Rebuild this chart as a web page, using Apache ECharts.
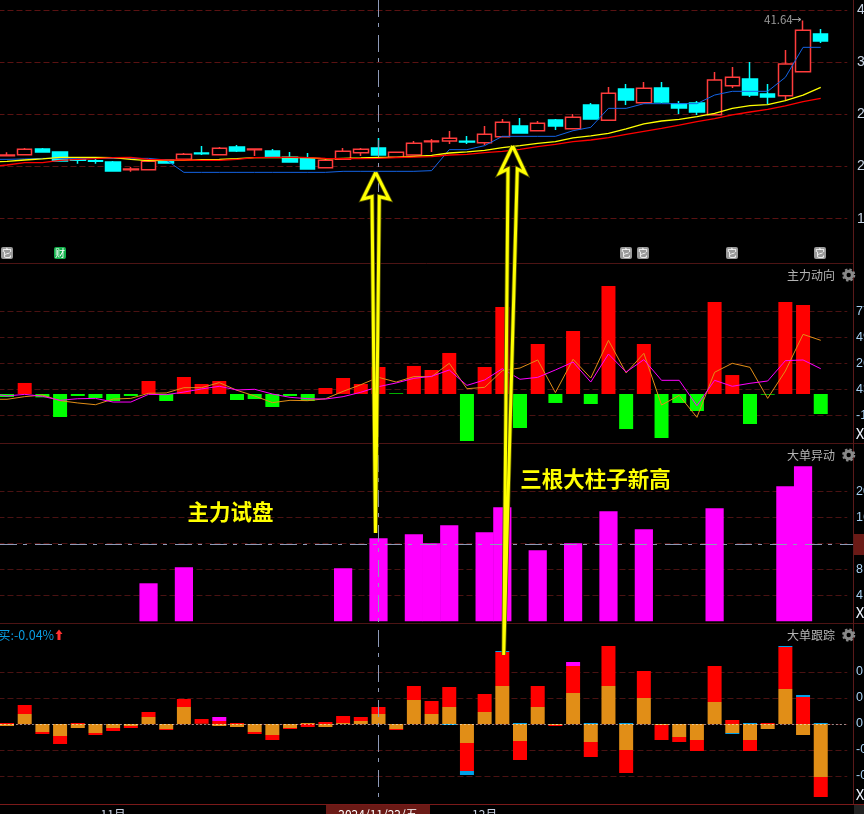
<!DOCTYPE html>
<html><head><meta charset="utf-8">
<style>html,body{margin:0;padding:0;background:#000;overflow:hidden}#c{width:864px;height:814px}</style>
<script src="https://cdn.jsdelivr.net/npm/echarts@6/dist/echarts.min.js"></script>
</head><body><div id="c"></div>
<script>
// ---- data ----
const dates=['2024/10/23','2024/10/24','2024/10/25','2024/10/28','2024/10/29','2024/10/30','2024/10/31','2024/11/01','2024/11/04','2024/11/05','2024/11/06','2024/11/07','2024/11/08','2024/11/11','2024/11/12','2024/11/13','2024/11/14','2024/11/15','2024/11/18','2024/11/19','2024/11/20','2024/11/21','2024/11/22','2024/11/25','2024/11/26','2024/11/27','2024/11/28','2024/11/29','2024/12/02','2024/12/03','2024/12/04','2024/12/05','2024/12/06','2024/12/09','2024/12/10','2024/12/11','2024/12/12','2024/12/13','2024/12/16','2024/12/17','2024/12/18','2024/12/19','2024/12/20','2024/12/23','2024/12/24','2024/12/25','2024/12/26','2024/12/27',''];
const monthLabels={'2024/11/01':'11月','2024/12/02':'12月'};
const openP=[23.47,23.61,24.37,23.97,22.94,22.80,22.62,21.59,21.59,22.89,22.98,23.83,23.61,24.64,24.28,24.10,23.25,23.07,21.86,22.98,23.88,24.50,23.25,23.56,25.35,25.44,25.40,25.22,26.03,27.46,26.83,28.27,27.10,30.28,28.22,32.43,30.59,32.56,30.41,30.55,28.98,32.88,33.77,31.76,31.53,34.76,39.82];
const closeP=[23.56,24.32,23.97,22.76,22.85,22.71,21.41,21.68,22.71,22.49,23.65,23.74,24.46,24.10,24.37,23.25,22.62,21.68,22.85,24.06,24.32,23.56,23.92,25.13,25.44,25.80,25.31,26.34,27.95,26.52,27.82,27.46,28.62,28.40,31.85,30.95,32.52,30.68,29.88,29.34,33.64,34.00,31.62,31.36,35.79,40.31,38.88];
const lowP=[23.47,23.61,23.97,22.76,22.40,22.40,21.41,21.32,21.59,22.40,22.98,23.56,23.61,23.97,23.43,23.25,22.62,21.68,21.86,22.98,23.43,23.56,23.25,23.56,23.97,25.04,25.04,24.91,26.03,26.52,26.83,26.92,27.10,28.40,28.22,30.28,30.59,30.55,29.07,28.94,28.98,32.56,31.36,30.41,30.95,34.76,38.61];
const highP=[23.92,24.50,24.50,23.97,23.07,23.07,22.76,21.95,22.98,23.03,23.83,24.77,24.64,24.91,24.37,24.37,23.97,23.83,23.11,24.50,24.50,25.85,23.92,25.44,25.71,26.79,26.12,27.46,28.40,28.53,28.13,28.40,29.07,30.55,32.70,33.10,33.37,33.37,30.82,30.82,34.71,35.39,36.06,33.10,37.67,41.64,40.49];
const maYellow=[22.60,22.71,22.89,23.03,23.25,23.25,23.25,23.20,22.98,22.80,22.85,22.85,22.94,22.98,23.07,23.20,23.20,23.25,23.20,23.03,23.11,23.16,23.25,23.25,23.38,23.52,23.83,23.97,24.19,24.55,24.82,25.13,25.35,25.85,26.12,26.47,27.06,27.73,28.13,28.35,28.71,29.16,29.83,30.19,30.33,30.86,31.62,32.65];
const maRed=[22.00,22.22,22.53,22.53,22.85,22.98,23.07,23.20,23.25,22.98,22.89,22.89,22.85,22.85,22.98,23.20,23.25,23.25,23.20,23.11,23.07,23.07,23.11,23.20,23.29,23.34,23.56,23.65,23.88,24.06,24.32,24.68,25.00,25.35,25.58,25.89,26.34,26.74,27.15,27.59,28.04,28.44,28.94,29.34,29.70,30.15,30.73,31.18];
const maBlue=[22.98,22.98,23.03,23.11,23.11,23.11,23.11,23.11,23.11,23.11,22.89,21.23,21.23,21.23,21.23,21.23,21.23,21.23,21.23,21.23,21.37,21.37,21.37,21.37,21.37,21.46,24.28,24.28,24.82,26.07,26.07,26.07,26.07,26.83,27.28,29.83,29.83,30.46,30.46,30.46,30.46,31.62,32.12,32.12,32.12,34.00,38.03,38.03];
const flowUp=[null,9.6,null,null,null,null,null,null,11.3,null,14.8,8.7,11.3,null,null,null,null,null,5.2,13.9,8.7,23.5,null,24.4,20.9,35.7,null,23.5,75.7,null,43.5,null,54.8,null,94.0,null,43.5,null,null,null,80.0,16.5,null,null,80.0,77.4,null];
const flowDown=[-2.6,null,-2.9,-20.0,-1.7,-3.5,-6.1,-1.7,null,-6.1,null,null,null,-5.2,-4.4,-11.3,-1.7,-6.1,null,null,null,null,0.6,null,null,null,-40.9,null,null,-29.6,null,-7.8,null,-8.7,null,-30.5,null,-38.3,-7.8,-14.8,null,null,-26.1,-0.6,null,null,-17.4];
const flowMagenta=[0.6,-1.7,-0.3,-2.0,-5.5,-4.1,-3.8,-7.0,-7.0,-0.3,-0.6,1.7,4.4,6.7,3.5,4.1,0,-2.9,-4.1,-4.4,-2.3,1.5,6.4,9.6,13.6,15.4,20.9,7.5,12.2,22.0,12.8,14.5,20.9,27.8,10.4,34.8,19.1,29.9,11.9,11.9,-10.2,11.9,6.7,9.3,11.3,29.0,29.6,22.0];
const flowOrange=[-4.6,-4.6,-2.3,-0.9,-5.8,-7.8,-9.3,-4.4,-3.8,0.6,0.9,5.5,5.5,9.9,3.2,-1.7,-7.5,-5.5,-5.8,-4.1,2.3,8.1,14.5,10.4,15.1,15.1,26.7,4.6,5.8,20.3,22.6,29.6,1.2,30.2,13.9,46.7,18.3,35.4,-9.6,-1.2,-20.3,18.9,26.7,23.2,-3.8,20.0,51.9,46.7];
const bigOrder=[null,null,null,null,null,null,null,null,5.85,null,8.31,null,null,null,null,null,null,null,null,8.15,null,12.77,null,13.38,12.0,14.77,null,13.69,17.54,null,10.92,null,12.0,null,16.92,null,14.15,null,null,null,17.38,null,null,null,20.77,23.85,null];
const trackOrange=[-0.03,0.15,-0.12,-0.18,-0.06,-0.135,-0.06,-0.03,0.105,-0.075,0.255,0.005,-0.03,-0.045,-0.12,-0.165,-0.06,0.015,-0.045,0.015,0.045,0.15,-0.075,0.36,0.15,0.255,-0.285,0.18,0.57,-0.255,0.255,-0.015,0.465,-0.27,0.57,-0.39,0.39,-0.015,-0.195,-0.24,0.33,-0.135,-0.24,-0.075,0.525,-0.165,-0.795];
const trackRed=[0.015,0.135,-0.03,-0.12,0.015,-0.03,-0.045,-0.03,0.075,-0.015,0.12,0.07,0.045,0.015,-0.03,-0.075,-0.015,-0.045,0.03,0.105,0.06,0.105,-0.015,0.21,0.195,0.30,-0.42,0.27,0.51,-0.285,0.315,-0.015,0.405,-0.225,0.60,-0.345,0.405,-0.225,-0.075,-0.165,0.54,0.06,-0.165,0.015,0.63,0.405,-0.30];
const trackMagenta=[0,0,0,0,0,0,0,0,0,0,0,0,0.06,0,0,0,0,0,0,0,0,0,0,0,0,0,0,0,0,0,0,0,0.06,0,0,0,0,0,0,0,0,0,0,0,0,0,0];
const trackBlue=[0,0,0,0,0,0,0,0,0,0,0,0,0,0,0,0,0,0,0,0,0,0,0,0,0,-0.015,-0.06,0,0.015,0.015,0,0,0,0.015,0,0.015,0,0,0,0,0,-0.015,0.015,0,0.015,0.03,0.015];
const priceTicks=[43,36,29,22,15], priceLabels=['43.00','36.00','29.00','22.00','15.00'];
const flowTicks=[71.9,49.3,26.7,4.06,-18.6], flowLabels=['77.0','49.0','26.0','43.0','-18'];
const bigTicks=[20,16,12,8,4], bigLabels=['20.0','16.0','','8.00','4.00'];
const trackTicks=[0.78,0.39,0,-0.39,-0.78], trackLabels=['0.78','0.39','0.00','-0.39','-0.78'];

// ---- layout ----
const BAND=17.69, GL=-19.53, GW=BAND*dates.length;
const panels=[{top:0,h:263,min:9.05,max:44.39,t:priceTicks,l:priceLabels,c:'#c8d4e4',fs:14,m:4},
 {top:264,h:179,min:-42.63,max:113.1,t:flowTicks,l:flowLabels,c:'#a8cff0',fs:12.5,m:3},
 {top:444,h:179,min:-0.26,max:27.28,t:bigTicks,l:bigLabels,c:'#a8cff0',fs:12.5,m:3},
 {top:624,h:180,min:-1.2,max:1.5,t:trackTicks,l:trackLabels,c:'#a8cff0',fs:12.5,m:3}];
const lead=a=>[null].concat(a);
const RED='#ff0000',GREEN='#00ff00',MAG='#ff00ff',ORG='#e18e17',BLU='#00a0e8';
const candle=[['-','-','-','-']].concat(openP.map((o,i)=>[o,closeP[i],lowP[i],highP[i]]));
const line=(name,xi,data,color,w)=>({name,type:'line',xAxisIndex:xi,yAxisIndex:xi,data,symbol:'none',showSymbol:false,z:5,connectNulls:false,lineStyle:{color,width:w},itemStyle:{color},silent:true});
const bar=(name,xi,data,color,width,stack)=>({name,type:'bar',xAxisIndex:xi,yAxisIndex:xi,data,stack,barWidth:width,itemStyle:{color},silent:true});
const series=[
 {name:'K',type:'candlestick',xAxisIndex:0,yAxisIndex:0,data:candle,barWidth:15,silent:true,
  itemStyle:{color:'#000',color0:'#00ffff',borderColor:'#ff3c3c',borderColor0:'#00ffff',borderWidth:1.5}},
 line('MA-blue',0,maBlue,'#1464e6',1),
 line('MA-yellow',0,maYellow,'#ffff00',1.3),
 line('MA-red',0,maRed,'#ff0000',1.3),
 bar('flowUp',1,lead(flowUp),RED,14,'f'),
 bar('flowDown',1,lead(flowDown),GREEN,14,'f'),
 line('flowOrange',1,flowOrange,ORG,1),
 line('flowMagenta',1,flowMagenta,MAG,1),
 bar('bigOrder',2,lead(bigOrder),MAG,18.2),
 bar('trackOrange',3,lead(trackOrange),ORG,14,'t'),
 bar('trackRed',3,lead(trackRed),RED,14,'t'),
 bar('trackMagenta',3,lead(trackMagenta),MAG,14,'t'),
 bar('trackBlue',3,lead(trackBlue),BLU,14,'t'),
 {name:'zero',type:'line',xAxisIndex:3,yAxisIndex:3,data:[],z:1,silent:true,
  markLine:{silent:true,symbol:'none',label:{show:false},animation:false,data:[{yAxis:0}],lineStyle:{color:'#fff',width:1,type:[1,3]}}}
];

// ---- chrome ----
const gLine=(x1,y1,x2,y2,stroke,dash,w)=>({type:'line',silent:true,z:50,shape:{x1,y1,x2,y2},style:{stroke,lineWidth:w||1,lineDash:dash||null}});
const gText=(x,y,text,fill,size,align,extra)=>({type:'text',silent:true,z:60,x,y,style:Object.assign({text,fill,font:size+'px "Noto Sans CJK SC","Liberation Sans",sans-serif',textAlign:align||'left',textVerticalAlign:'middle'},extra||{})});
const arrow=pts=>[
 {type:'polyline',silent:true,z:70,shape:{points:pts.concat([pts[0]])},style:{stroke:'#5a5a00',lineWidth:4.6,fill:null,lineJoin:'miter'}},
 {type:'polyline',silent:true,z:71,shape:{points:pts.concat([pts[0]])},style:{stroke:'#ffff00',lineWidth:3,fill:null,lineJoin:'miter'}}];
const gear=(cx,cy)=>[
 {type:'circle',silent:true,z:60,shape:{cx,cy,r:3.7},style:{stroke:'#8a8a8a',lineWidth:3,fill:null}},
 {type:'circle',silent:true,z:60,shape:{cx,cy,r:5.6},style:{stroke:'#8a8a8a',lineWidth:2,fill:null,lineDash:[2.4,2]}}];
const badge=(cx,text,fill)=>[
 {type:'rect',silent:true,z:60,shape:{x:cx-6,y:247,width:12,height:12,r:2},style:{fill}},
 gText(cx,253,text,'#fff',10,'center')];
const CROSS=[17,6,4,8], CC='#8e9ab8', SEP='#4d1414';
const graphic=[
 gLine(378.5,0,378.5,804,CC,CROSS),
 gLine(0,544.5,853,544.5,CC,CROSS),
 gLine(0,263.5,853,263.5,SEP), gLine(0,443.5,864,443.5,SEP), gLine(0,623.5,864,623.5,SEP),
 gLine(0,804.5,864,804.5,'#7a1a1a'), gLine(853.5,0,853.5,804,'#5a1a1a'),
 {type:'rect',silent:true,z:55,shape:{x:854,y:534,width:10,height:21},style:{fill:'#6b1a16'}},
 {type:'rect',silent:true,z:55,shape:{x:854,y:805,width:10,height:9},style:{fill:'#222'}},
 {type:'rect',silent:true,z:55,shape:{x:326,y:805,width:104,height:9},style:{fill:'#6b1a16'}},
 gText(378,814,'2024/11/22/五','#fff',12,'center'),
 gText(835,275,'主力动向','#b4b4b4',12,'right'), gText(835,455,'大单异动','#b4b4b4',12,'right'), gText(835,635,'大单跟踪','#b4b4b4',12,'right'),
 ...gear(848.7,275),...gear(848.7,455),...gear(848.7,635),
 gText(860,433,'X','#f0f4ff',15,'center'), gText(860,612,'X','#f0f4ff',15,'center'), gText(860,794,'X','#f0f4ff',15,'center'),
 gText(-2,635,'买:-0.04%','#0a9ce0',12.5),
 {type:'polygon',silent:true,z:60,shape:{points:[[59,629.5],[62.5,634],[60.5,634],[60.5,640],[57.5,640],[57.5,634],[55.5,634]]},style:{fill:'#ff3030'}},
 gText(764,20,'41.64','#9a9a9a',11.5),
 gLine(792,19.5,801,19.5,'#9a9a9a'),
 {type:'polyline',silent:true,z:60,shape:{points:[[798,17.5],[801,19.5],[798,21.5]]},style:{stroke:'#9a9a9a',lineWidth:1,fill:null}},
 ...badge(7,'它','#9a9a9a'),...badge(60,'财','#12b04a'),...badge(626,'它','#9a9a9a'),...badge(643,'它','#9a9a9a'),...badge(732,'它','#9a9a9a'),...badge(820,'它','#9a9a9a'),
 ...arrow([[375.7,172.5],[389,199],[379.3,196.7],[375.5,533],[372,196.7],[362.7,199]]),
 ...arrow([[512.7,146],[525.3,173],[517.3,169],[503.7,655],[508,169],[499.7,173]]),
 gText(230.5,512,'主力试盘','#ffff00',21.5,'center',{font:'bold 21.5px "Noto Sans CJK SC",sans-serif'}),
 gText(595.5,479,'三根大柱子新高','#ffff00',21.5,'center',{font:'bold 21.5px "Noto Sans CJK SC",sans-serif'})
];

const chart=echarts.init(document.getElementById('c'),null,{renderer:'canvas'});
chart.setOption({
 backgroundColor:'#000',animation:false,
 grid:panels.map(p=>({left:GL,width:GW,top:p.top,height:p.h,containLabel:false,outerBoundsMode:'none'})),
 xAxis:panels.map((p,i)=>({type:'category',gridIndex:i,data:dates,boundaryGap:true,
   axisLine:{show:false},axisTick:{show:false},splitLine:{show:false},
   axisLabel:i===3?{show:true,interval:0,margin:4,color:'#c8d0e0',fontSize:12,fontFamily:'"Noto Sans CJK SC"',formatter:v=>monthLabels[v]||''}:{show:false}})),
 yAxis:panels.map((p,i)=>({type:'value',gridIndex:i,position:'right',offset:5.7,min:p.min,max:p.max,scale:true,
   axisLine:{show:false},axisTick:{show:false,customValues:p.t},
   axisLabel:{show:true,customValues:p.t,margin:p.m,align:'left',color:p.c,fontSize:p.fs,fontFamily:'"Liberation Sans"',hideOverlap:false,formatter:v=>p.l[p.t.indexOf(v)]},
   splitLine:{show:true,lineStyle:{color:i===0?'#5a1212':'#4a1212',width:1,type:[6,3]}}})),
 series,graphic
});
</script></body></html>
